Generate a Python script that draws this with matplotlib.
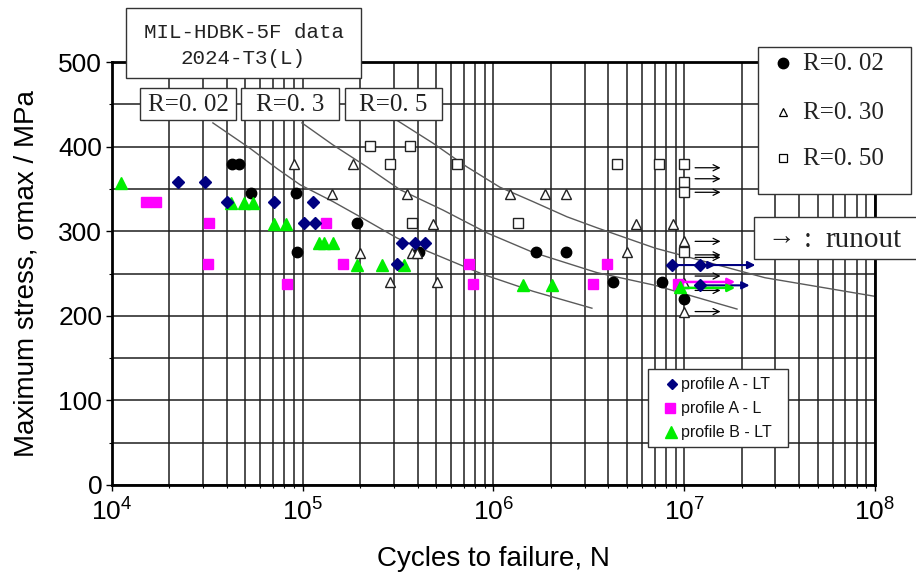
import numpy as np
import matplotlib
matplotlib.use('Agg')
import matplotlib.pyplot as plt
from matplotlib.patches import Rectangle
from matplotlib.ticker import LogLocator, MultipleLocator, NullFormatter

plt.rcParams.update({
    'font.family': ['Liberation Sans', 'DejaVu Sans'],
    'mathtext.fontset': 'custom',
    'mathtext.rm': 'Liberation Sans',
    'mathtext.it': 'Liberation Sans:italic',
    'mathtext.bf': 'Liberation Sans:bold',
})

# ── MIL-HDBK-5F reference points (open / black symbols) ──
r002_n = [4.28e4, 4.64e4, 5.36e4, 9.19e4, 9.29e4, 1.92e5, 4.06e5, 1.68e6, 2.41e6,
          4.21e6, 7.6e6, 1.0e7]
r002_s = [380, 380, 345, 345, 275, 310, 275, 275, 275, 240, 240, 220]

r030_n = [9.0e4, 1.83e5, 1.43e5, 2.0e5, 3.53e5, 4.8e5, 3.72e5, 3.98e5, 2.85e5, 5.04e5,
          1.22e6, 1.86e6, 2.41e6, 4.99e6, 5.58e6, 8.7e6, 1.0e7, 1.0e7, 1.0e7]
r030_s = [379, 379, 344, 274, 344, 309, 274, 274, 240, 240,
          344, 344, 344, 275, 309, 309, 289, 239, 205]

r050_n = [2.25e5, 3.65e5, 2.85e5, 6.46e5, 3.75e5, 1.34e6, 4.43e6, 7.4e6,
          1.0e7, 1.0e7, 1.0e7, 1.0e7]
r050_s = [401, 401, 380, 380, 310, 310, 380, 380, 380, 358, 346, 276]

# ── new test data ──
a_lt_n = [2.21e4, 3.07e4, 3.99e4, 7.07e4, 1.136e5, 1.01e5, 1.16e5, 3.3e5, 3.87e5, 4.37e5,
          3.11e5, 8.6e6, 1.21e7, 1.21e7]
a_lt_s = [358, 358, 334, 334, 334, 310, 310, 286, 286, 286, 261, 260, 260, 236]

a_l_n = [1.51e4, 1.71e4, 3.24e4, 3.17e4, 8.24e4, 1.32e5, 1.62e5, 7.47e5, 7.78e5,
         3.95e6, 3.31e6, 9.3e6]
a_l_s = [335, 335, 310, 261, 237, 310, 261, 261, 237, 261, 237, 238]

b_lt_n = [1.11e4, 4.21e4, 4.94e4, 5.47e4, 7.07e4, 8.17e4, 1.21e5, 1.3e5, 1.44e5,
          1.92e5, 2.59e5, 3.38e5, 1.42e6, 2.03e6, 9.5e6]
b_lt_s = [357, 333, 333, 333, 309, 309, 286, 286, 286, 260, 260, 260, 236, 236, 234]

# runouts: coloured arrows (start N, end N, S) and black arrows of the handbook data
a_lt_run_n0 = [8.6e6, 1.21e7, 1.21e7]
a_lt_run_n1 = [1.46e7, 2.36e7, 2.2e7]
a_lt_run_s = [260, 260, 236]
a_l_run = (9.3e6, 1.85e7, 240)
b_lt_run = (9.5e6, 1.85e7, 233)
hb_run_s = [375, 362, 346, 288, 272, 269, 247, 230, 205]
hb_run_n0, hb_run_n1 = 1.14e7, 1.55e7

# ── fitted S-N curves ──
c002_n = [3.38e4, 5.29e4, 7.33e4, 9.67e4, 1.44e5, 2.0e5, 3.12e5, 4.12e5, 8.81e5, 1.61e6, 3.28e6]
c002_s = [428, 398, 374, 355, 335, 317, 292, 280, 249, 229, 209]
c030_n = [9.9e4, 1.44e5, 2.17e5, 3.24e5, 5.43e5, 9.25e5, 1.61e6, 3.49e6, 7.03e6, 1.89e7]
c030_s = [428, 402, 376, 349, 325, 298, 275, 251, 236, 208]
c050_n = [3.12e5, 4.82e5, 7.26e5, 1.08e6, 1.61e6, 2.43e6, 3.49e6, 7.03e6, 2.65e7, 1.0e8]
c050_s = [431, 404, 376, 352, 335, 317, 304, 280, 245, 223]

W, H = 916, 574
fig = plt.figure(figsize=(W / 100, H / 100), dpi=100)
ax = fig.add_axes([112 / W, 89 / H, 763 / W, 423 / H])
ax.set_xscale('log')
ax.set_xlim(1e4, 1e8)
ax.set_ylim(0, 500)

# grid
ax.xaxis.set_major_locator(LogLocator(base=10, numticks=10))
ax.xaxis.set_minor_locator(LogLocator(base=10, subs=np.arange(2, 10), numticks=20))
ax.xaxis.set_minor_formatter(NullFormatter())
ax.yaxis.set_major_locator(MultipleLocator(100))
ax.yaxis.set_minor_locator(MultipleLocator(50))
ax.grid(True, which='both', color='#1e1e1e', lw=1.1, zorder=0)
ax.set_axisbelow(True)
for sp in ax.spines.values():
    sp.set_linewidth(2)
ax.tick_params(axis='both', which='major', labelsize=19, length=4, width=1)
ax.tick_params(axis='both', which='minor', length=2, width=0.8)
ax.tick_params(axis='x', which='major', pad=6)
ax.tick_params(axis='y', which='major', pad=3)

# curves
for cn, cs in [(c002_n, c002_s), (c030_n, c030_s), (c050_n, c050_s)]:
    ax.plot(cn, cs, color='#5a5a5a', lw=1.0, zorder=2)

# handbook points
ax.plot(r002_n, r002_s, 'o', color='black', ms=7.5, zorder=4)
ax.plot(r030_n, r030_s, '^', mfc='white', mec='#222222', mew=1.0, ms=7.5, zorder=4)
ax.plot(r050_n, r050_s, 's', mfc='white', mec='#222222', mew=1.0, ms=6.8, zorder=4)

for s in hb_run_s:
    ax.annotate('', xy=(hb_run_n1, s), xytext=(hb_run_n0, s),
                arrowprops=dict(arrowstyle='->', color='black', lw=0.9,
                                mutation_scale=11, shrinkA=0, shrinkB=0), zorder=3)

# coloured runout arrows
for n0, n1, s in zip(a_lt_run_n0, a_lt_run_n1, a_lt_run_s):
    ax.annotate('', xy=(n1, s), xytext=(n0, s),
                arrowprops=dict(arrowstyle='-|>', color='#000080', lw=1.5,
                                mutation_scale=11, shrinkA=0, shrinkB=0), zorder=5)
for (n0, n1, s), c in [(a_l_run, '#ff00ff'), (b_lt_run, '#00ee00')]:
    ax.annotate('', xy=(n1, s), xytext=(n0, s),
                arrowprops=dict(arrowstyle='-|>', color=c, lw=1.8,
                                mutation_scale=11, shrinkA=0, shrinkB=0), zorder=5)

# new test data
ax.plot(a_l_n, a_l_s, 's', color='#ff00ff', ms=7.4, zorder=6)
ax.plot(b_lt_n, b_lt_s, '^', color='#00ee00', ms=9, zorder=6)
ax.plot(a_lt_n, a_lt_s, 'D', color='#000080', ms=6.6, zorder=7)

ax.set_xlabel('Cycles to failure, N', fontsize=20)
ax.set_ylabel('Maximum stress, σmax / MPa', fontsize=20)
ax.xaxis.set_label_coords(0.5, -0.145)
ax.yaxis.set_label_coords(-0.095, 0.5)

# ── overlay for boxes and legends (pixel coordinates) ──
ov = fig.add_axes([0, 0, 1, 1])
ov.set_zorder(5)
ov.set_xlim(0, W)
ov.set_ylim(H, 0)
ov.axis('off')

serif = ['Liberation Serif', 'DejaVu Serif']


def box(x0, y0, x1, y1, lw=1.0):
    ov.add_patch(Rectangle((x0, y0), x1 - x0, y1 - y0, fc='white', ec='#333333', lw=lw))


box(126, 8, 361, 78)
ov.text(243.5, 32, 'MIL-HDBK-5F data', family='Liberation Mono', fontsize=15,
        ha='center', va='center', color='#222222')
ov.text(243.5, 58, '2024-T3(L)', family='Liberation Mono', fontsize=15,
        ha='center', va='center', color='#222222')

for (x0, x1), lab in zip([(140, 236), (241, 339), (345, 442)], ['R=0. 02', 'R=0. 3', 'R=0. 5']):
    box(x0, 88, x1, 120)
    ov.text((x0 + x1) / 2, 105, lab, family=serif, fontsize=18, ha='center', va='center',
            color='#222222')

# legend for R ratios
box(758, 47, 911, 194)
ov.plot([783], [63], 'o', color='black', ms=7.5)
ov.plot([783], [112], '^', mfc='white', mec='black', mew=0.9, ms=6)
ov.plot([783], [158], 's', mfc='white', mec='black', mew=0.9, ms=6)
for yy, lab in zip([63, 112, 158], ['R=0. 02', 'R=0. 30', 'R=0. 50']):
    ov.text(803, yy + 1, lab, family=serif, fontsize=18, ha='left', va='center', color='#222222')

# runout box
box(754, 217, 920, 259)
ov.text(781, 238, '→', family=serif, fontsize=20, ha='center', va='center', color='#222222')
ov.text(808, 240, ':', family=serif, fontsize=21, ha='center', va='center', color='#222222')
ov.text(825, 240, 'runout', family=serif, fontsize=21, ha='left', va='center', color='#222222')

# legend for profiles
box(648, 369, 788, 447)
ov.plot([672], [384], 'D', color='#000080', ms=5.5)
ov.plot([670], [408], 's', color='#ff00ff', ms=7)
ov.plot([671], [432], '^', color='#00ee00', ms=8)
for yy, lab in zip([384, 408, 432], ['profile A - LT', 'profile A - L', 'profile B - LT']):
    ov.text(681, yy, lab, fontsize=11.5, ha='left', va='center', color='#111111')

fig.savefig('out.png', dpi=100, facecolor='white')
